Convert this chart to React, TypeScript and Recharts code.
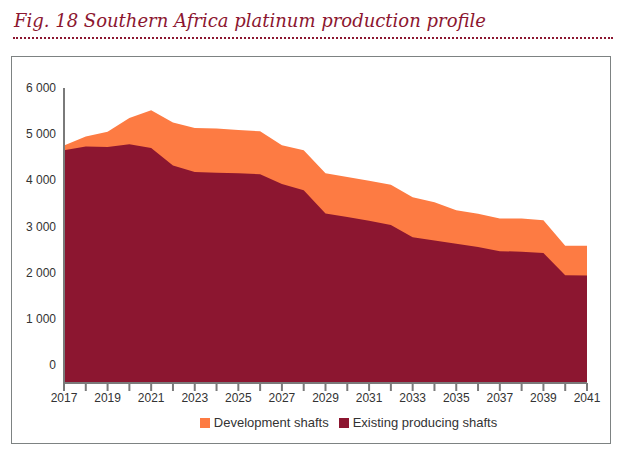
import { AreaChart, Area, XAxis, YAxis, Legend } from 'recharts';

const years = [2017, 2018, 2019, 2020, 2021, 2022, 2023, 2024, 2025, 2026, 2027, 2028, 2029, 2030, 2031, 2032, 2033, 2034, 2035, 2036, 2037, 2038, 2039, 2040, 2041];
const existing = [4650, 4730, 4720, 4780, 4700, 4320, 4180, 4160, 4150, 4130, 3920, 3780, 3280, 3200, 3120, 3030, 2760, 2690, 2620, 2550, 2460, 2450, 2420, 1940, 1930];
const development = [100, 220, 330, 570, 820, 930, 950, 960, 940, 930, 840, 870, 870, 870, 870, 870, 870, 830, 730, 720, 710, 720, 710, 640, 650];
const yTicks = [0, 1000, 2000, 3000, 4000, 5000, 6000];

const RED = '#8c1630';
const ORANGE = '#fd7b43';
const AXIS = '#7a7a7a';

const data = years.map((y, i) => ({
  year: y,
  existing: existing[i],
  total: existing[i] + development[i],
}));

const fmt = (v: number) => String(v).replace(/\B(?=(\d{3})+(?!\d))/g, ' ');

export default function App() {
  return (
    <div style={{ width: 624, height: 458, margin: -8, position: 'relative', background: '#fff', fontFamily: 'Liberation Sans, Arial, sans-serif' }}>
      <div style={{ position: 'absolute', left: 13, top: 6, width: 600, borderTop: `2px solid ${RED}` }} />
      <div style={{ position: 'absolute', left: 14, top: 10, fontFamily: '"DejaVu Serif", serif', fontStyle: 'italic', fontSize: 18, color: RED }}>
        Fig. 18 Southern Africa platinum production profile
      </div>
      <div style={{ position: 'absolute', left: 13, top: 37, width: 600, borderTop: `2px dotted ${RED}` }} />
      <div style={{ position: 'absolute', left: 11, top: 56, width: 600, height: 388, border: '1.5px solid #7d8282', boxSizing: 'border-box' }} />
      <div style={{ position: 'absolute', left: 0, top: 56 }}>
        <AreaChart width={612} height={385} data={data} margin={{ top: 32, right: 25, left: 0, bottom: 10 }}>
          <XAxis
            dataKey="year"
            type="number"
            domain={[2017, 2041]}
            ticks={years}
            interval={0}
            tickFormatter={(v: number) => (v % 2 === 1 ? String(v) : '')}
            tick={{ fontSize: 12, fill: '#333' }}
            stroke={AXIS}
            strokeWidth={2}
            tickSize={8}
            padding={{ left: 0, right: 0 }}
          />
          <YAxis
            domain={[-400, 6000]}
            ticks={yTicks}
            tickFormatter={fmt}
            tickLine={false}
            tick={{ fontSize: 12, fill: '#333' }}
            stroke={AXIS}
            strokeWidth={2}
            width={64}
          />
          <Area dataKey="total" name="Development shafts" type="linear" baseValue="dataMin" fill={ORANGE} fillOpacity={1} stroke="none" isAnimationActive={false} legendType="square" />
          <Area dataKey="existing" name="Existing producing shafts" type="linear" baseValue="dataMin" fill={RED} fillOpacity={1} stroke="none" isAnimationActive={false} legendType="square" />
          <Legend
            verticalAlign="bottom"
            iconSize={10}
            payload={[
              { value: 'Existing producing shafts', type: 'square', color: RED },
              { value: 'Development shafts', type: 'square', color: ORANGE },
            ]}
            formatter={(v: string) => <span style={{ color: '#333', fontSize: 13 }}>{v}</span>}
            wrapperStyle={{ paddingLeft: 60 }}
          />
        </AreaChart>
      </div>
    </div>
  );
}
